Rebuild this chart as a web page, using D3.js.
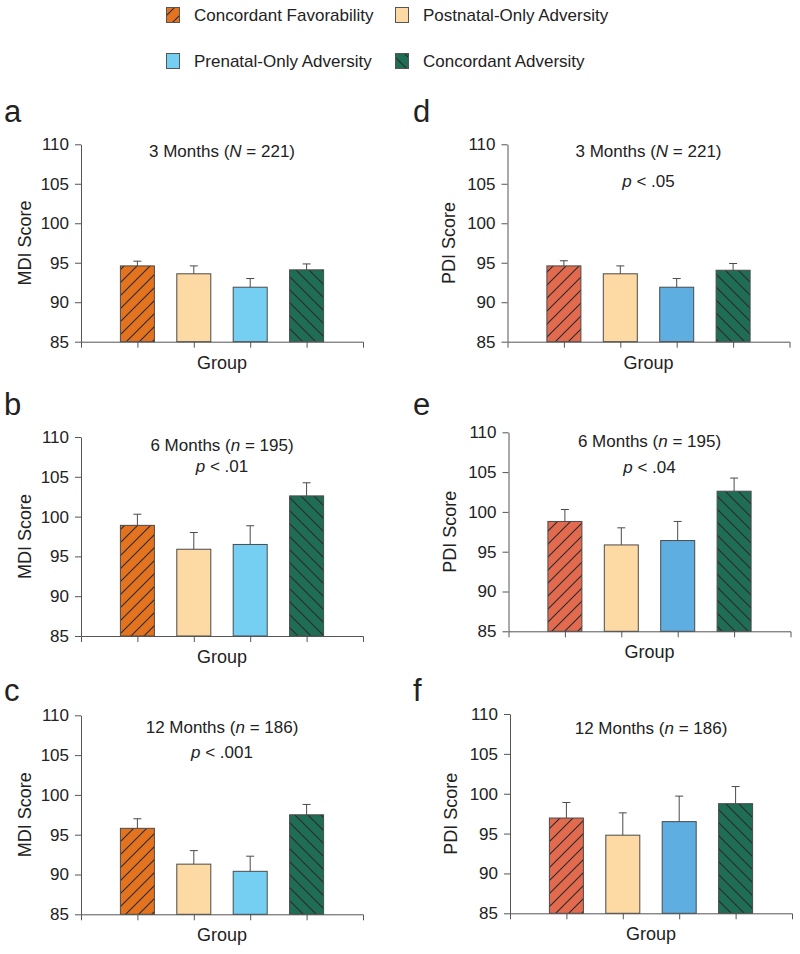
<!DOCTYPE html>
<html>
<head>
<meta charset="utf-8">
<script src="https://cdn.jsdelivr.net/npm/d3@7"></script>
<style>
  body { margin: 0; background: #fff; }
  svg { display: block; font-family: "Liberation Sans", Arial, sans-serif; }
</style>
</head>
<body>
<svg id="chart" width="800" height="954"></svg>
<script>
// Group means (+ SEM) for MDI / PDI at 3, 6 and 12 months

const groups = ['Concordant Favorability', 'Postnatal-Only Adversity', 'Prenatal-Only Adversity', 'Concordant Adversity'];
const yTicks = [85, 90, 95, 100, 105, 110];

const mdi3 = [94.6, 93.6, 91.9, 94.1];
const mdi3Err = [0.6, 1.0, 1.1, 0.75];
const mdi6 = [98.9, 95.9, 96.5, 102.6];
const mdi6Err = [1.4, 2.1, 2.35, 1.65];
const mdi12 = [95.8, 91.3, 90.4, 97.5];
const mdi12Err = [1.2, 1.7, 1.9, 1.3];

const pdi3 = [94.6, 93.6, 91.9, 94.05];
const pdi3Err = [0.65, 1.0, 1.1, 0.85];
const pdi6 = [98.8, 95.85, 96.4, 102.6];
const pdi6Err = [1.5, 2.15, 2.4, 1.65];
const pdi12 = [96.95, 94.8, 96.5, 98.75];
const pdi12Err = [1.95, 2.8, 3.2, 2.15];

// colours differ slightly between the MDI and PDI columns
const mdiColors = ['#e3731f', '#fdd9a3', '#74cff3', '#1f6d55'];
const pdiColors = ['#e16a4f', '#fdd9a3', '#5eaee2', '#1f6d55'];
const hatch = ['up', null, null, 'down'];

const svg = d3.select('#chart');
const defs = svg.append('defs');

// Diagonal hatch patterns
function addHatch(id, color, dir) {
  const s = 13;
  const p = defs.append('pattern')
    .attr('id', id)
    .attr('patternUnits', 'userSpaceOnUse')
    .attr('width', s)
    .attr('height', s);
  p.append('rect').attr('width', s).attr('height', s).attr('fill', color);
  const d = dir === 'up'
    ? `M0,${s} L${s},0 M-2,2 L2,-2 M${s - 2},${s + 2} L${s + 2},${s - 2}`
    : `M0,0 L${s},${s} M-2,${s - 2} L2,${s + 2} M${s - 2},-2 L${s + 2},2`;
  p.append('path').attr('d', d).attr('stroke', '#2a2a2a').attr('stroke-width', 1.1);
}

function fillFor(colors, i, tag) {
  if (!hatch[i]) return colors[i];
  const id = `hatch-${tag}-${i}`;
  if (defs.select('#' + id).empty()) addHatch(id, colors[i], hatch[i]);
  return `url(#${id})`;
}

// Legend
const legendPos = [[166, 7], [395, 7], [166, 53], [395, 53]];
groups.forEach((g, i) => {
  const [lx, ly] = legendPos[i];
  svg.append('rect')
    .attr('x', lx + 0.5).attr('y', ly + 0.5)
    .attr('width', 13).attr('height', 15)
    .attr('fill', fillFor(mdiColors, i, 'mdi'))
    .attr('stroke', '#555').attr('stroke-width', 1);
  svg.append('text')
    .attr('x', lx + 28).attr('y', ly + 13.5)
    .attr('font-size', 17).attr('fill', '#222')
    .text(g);
});

// Panel layout
const plotW = 282;
const panels = [
  { letter: 'a', x0: 81, top: 144.3, bottom: 341.7, values: mdi3, err: mdi3Err, colors: mdiColors, tag: 'mdi', ylab: 'MDI Score',
    title: ['3 Months (', ['N'], ' = 221)'], titleY: 157, p: null },
  { letter: 'b', x0: 81, top: 437, bottom: 636, values: mdi6, err: mdi6Err, colors: mdiColors, tag: 'mdi', ylab: 'MDI Score',
    title: ['6 Months (', ['n'], ' = 195)'], titleY: 451, p: '.01', pY: 471.5 },
  { letter: 'c', x0: 81, top: 715.3, bottom: 914.3, values: mdi12, err: mdi12Err, colors: mdiColors, tag: 'mdi', ylab: 'MDI Score',
    title: ['12 Months (', ['n'], ' = 186)'], titleY: 733, p: '.001', pY: 758 },
  { letter: 'd', x0: 507.5, top: 144.3, bottom: 341.7, values: pdi3, err: pdi3Err, colors: pdiColors, tag: 'pdi', ylab: 'PDI Score',
    title: ['3 Months (', ['N'], ' = 221)'], titleY: 157, p: '.05', pY: 186.5 },
  { letter: 'e', x0: 508.5, top: 432.3, bottom: 631.3, values: pdi6, err: pdi6Err, colors: pdiColors, tag: 'pdi', ylab: 'PDI Score',
    title: ['6 Months (', ['n'], ' = 195)'], titleY: 447, p: '.04', pY: 473 },
  { letter: 'f', x0: 510, top: 714, bottom: 913.3, values: pdi12, err: pdi12Err, colors: pdiColors, tag: 'pdi', ylab: 'PDI Score',
    title: ['12 Months (', ['n'], ' = 186)'], titleY: 734, p: null }
];

const letterY = { a: 122, b: 415, c: 701, d: 122, e: 415, f: 701 };

panels.forEach(pn => {
  const g = svg.append('g');
  const x = d3.scaleLinear().domain([0, 5]).range([pn.x0, pn.x0 + plotW]);
  const y = d3.scaleLinear().domain([85, 110]).range([pn.bottom, pn.top]);
  const barW = 34;
  const cx = i => x(i + 1);

  // Panel letter
  g.append('text')
    .attr('x', pn.x0 < 300 ? 4 : 413).attr('y', letterY[pn.letter])
    .attr('font-size', 31).attr('fill', '#222')
    .text(pn.letter);

  // Bars
  pn.values.forEach((v, i) => {
    g.append('rect')
      .attr('x', cx(i) - barW / 2).attr('y', y(v))
      .attr('width', barW).attr('height', y(85) - y(v))
      .attr('fill', fillFor(pn.colors, i, pn.tag))
      .attr('stroke', '#4a4a4a').attr('stroke-width', 1);

    // Error bar (upper only)
    const yt = y(v + pn.err[i]);
    g.append('line')
      .attr('x1', cx(i)).attr('x2', cx(i))
      .attr('y1', y(v)).attr('y2', yt)
      .attr('stroke', '#4a4a4a').attr('stroke-width', 1);
    g.append('line')
      .attr('x1', cx(i) - 4).attr('x2', cx(i) + 4)
      .attr('y1', yt).attr('y2', yt)
      .attr('stroke', '#4a4a4a').attr('stroke-width', 1);
  });

  // Axes
  const yAxis = g.append('g')
    .attr('transform', `translate(${pn.x0},0)`)
    .call(d3.axisLeft(y).tickValues(yTicks).tickSize(6).tickSizeOuter(0).tickPadding(6));
  const xAxis = g.append('g')
    .attr('transform', `translate(0,${pn.bottom})`)
    .call(d3.axisBottom(x).tickValues([1, 2, 3, 4]).tickSize(6).tickSizeOuter(6).tickFormat(''));
  [yAxis, xAxis].forEach(a => {
    a.selectAll('path, line').attr('stroke', '#555');
    a.selectAll('text').attr('font-size', 17).attr('fill', '#222')
      .attr('font-family', '"Liberation Sans", Arial, sans-serif');
  });

  // Axis titles
  g.append('text')
    .attr('transform', `translate(${pn.x0 - (pn.tag === 'mdi' ? 50 : 53)},${(pn.top + pn.bottom) / 2}) rotate(-90)`)
    .attr('text-anchor', 'middle')
    .attr('font-size', 18).attr('fill', '#222')
    .text(pn.ylab);
  g.append('text')
    .attr('x', pn.x0 + plotW / 2).attr('y', pn.bottom + 27)
    .attr('text-anchor', 'middle')
    .attr('font-size', 18).attr('fill', '#222')
    .text('Group');

  // Panel title with italic N / n
  const t = g.append('text')
    .attr('x', pn.x0 + plotW / 2).attr('y', pn.titleY)
    .attr('text-anchor', 'middle')
    .attr('font-size', 17).attr('fill', '#222');
  pn.title.forEach(part => {
    if (Array.isArray(part)) t.append('tspan').attr('font-style', 'italic').text(part[0]);
    else t.append('tspan').text(part);
  });

  if (pn.p) {
    const pt = g.append('text')
      .attr('x', pn.x0 + plotW / 2).attr('y', pn.pY)
      .attr('text-anchor', 'middle')
      .attr('font-size', 17).attr('fill', '#222');
    pt.append('tspan').attr('font-style', 'italic').text('p');
    pt.append('tspan').text(' < ' + pn.p);
  }
});
</script>
</body>
</html>
